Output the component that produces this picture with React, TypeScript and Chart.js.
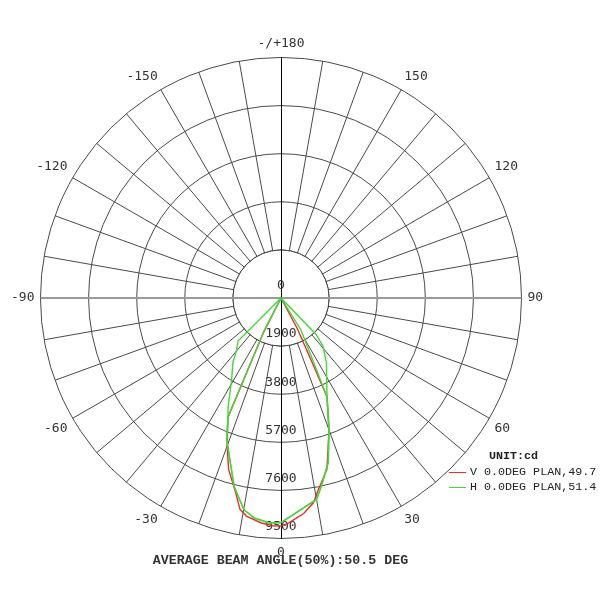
import React, { useEffect, useRef } from 'react';
import { Chart, registerables } from 'chart.js';

Chart.register(...registerables);

// Angular categories: gamma angle (deg), clockwise from the top (+/-180) through 90 (right), 0 (bottom), -90 (left)
const ANGLE_LABELS: number[] = Array.from({ length: 360 }, (_, i) => 180 - i);
const SHOWN_ANGLES: number[] = [180, 150, 120, 90, 60, 30, 0, -30, -60, -90, -120, -150];
const GRID_ANGLE_STEP = 10;

// Radial ticks (cd)
const TICK_VALUES: number[] = [0, 1900, 3800, 5700, 7600, 9500];

// V 0.0DEG PLAN (red)
const V_ANGLES: number[] = [180, 28, 26, 25, 20, 15, 11, 9, 6, 2, 0, -2, -5, -9, -11, -13, -17, -20, -24, -27];
const V_VALUES: number[] = [0, 1400, 2560, 4300, 5540, 7010, 7720, 8190, 8560, 8890, 9010, 9000, 8920, 8720, 8500, 7920, 7080, 6220, 5150, 1500];

// H 0.0DEG PLAN (green) - outer contour
const H_OUTER_ANGLES: number[] = [180, 44, 41, 35, 25, 20, 16, 12, 10, 0, -3, -7, -10, -14, -17, -21, -24, -26, -31, -37, -40, -45];
const H_OUTER_VALUES: number[] = [0, 2000, 2530, 3130, 4300, 5540, 6770, 7620, 8080, 8870, 8900, 8750, 8480, 7660, 6830, 5980, 5150, 4760, 3790, 3150, 2740, 2400];

// H 0.0DEG PLAN (green) - inner contour
const H_INNER_ANGLES: number[] = [180, 32, 25, 20, 16, 12, 10, 0, -3, -7, -10, -14, -17, -21, -24, -27];
const H_INNER_VALUES: number[] = [0, 1490, 4300, 5540, 6770, 7620, 8080, 8870, 8900, 8750, 8480, 7660, 6830, 5980, 5150, 1500];

const TITLE = 'AVERAGE BEAM ANGLE(50%):50.5 DEG';
const UNIT = 'UNIT:cd';
const SERIES_NAMES: string[] = ['V 0.0DEG PLAN,49.7', 'H 0.0DEG PLAN,51.4'];
const SERIES_COLORS: string[] = ['#f02a2a', '#44d838'];

const GRID_COLOR = '#4a4a4a';

function toSeries(angles: number[], values: number[]): (number | null)[] {
  const arr: (number | null)[] = ANGLE_LABELS.map(() => null);
  angles.forEach((a, k) => {
    const idx = ANGLE_LABELS.indexOf(a);
    if (idx >= 0) arr[idx] = values[k];
  });
  return arr;
}

const holePlugin = {
  id: 'holeAndTicks',
  beforeDatasetsDraw(chart: any) {
    const s = chart.scales.r;
    const ctx = chart.ctx as CanvasRenderingContext2D;
    const xc = s.xCenter;
    const yc = s.yCenter;
    const r1 = s.getDistanceFromCenterForValue(TICK_VALUES[1]);
    const rMax = s.getDistanceFromCenterForValue(TICK_VALUES[TICK_VALUES.length - 1]);
    ctx.save();
    ctx.beginPath();
    ctx.arc(xc, yc, r1 - 0.5, 0, Math.PI * 2);
    ctx.fillStyle = '#ffffff';
    ctx.fill();
    ctx.beginPath();
    ctx.arc(xc, yc, r1, 0, Math.PI * 2);
    ctx.strokeStyle = GRID_COLOR;
    ctx.lineWidth = 1;
    ctx.stroke();
    // horizontal diameter (-90 / 90)
    ctx.beginPath();
    ctx.moveTo(xc - rMax, yc);
    ctx.lineTo(xc + rMax, yc);
    ctx.strokeStyle = '#9a9a9a';
    ctx.lineWidth = 2;
    ctx.stroke();
    // vertical diameter (0 / 180)
    ctx.beginPath();
    ctx.moveTo(xc + 0.5, yc - rMax);
    ctx.lineTo(xc + 0.5, yc + rMax);
    ctx.strokeStyle = '#000000';
    ctx.lineWidth = 1;
    ctx.stroke();
    // radial tick labels along the lower vertical axis
    ctx.font = '13px "DejaVu Sans Mono"';
    ctx.fillStyle = '#333333';
    ctx.textAlign = 'center';
    ctx.textBaseline = 'middle';
    s.ticks.forEach((t: any) => {
      const r = s.getDistanceFromCenterForValue(t.value);
      ctx.fillText(String(t.value), xc, yc + r - 12);
    });
    ctx.restore();
  },
};

export default function App() {
  const ref = useRef<HTMLCanvasElement>(null);

  useEffect(() => {
    if (!ref.current) return;
    const lineDs = (label: string, data: (number | null)[], color: string, order: number) => ({
      label,
      data,
      order,
      borderColor: color,
      backgroundColor: color,
      borderWidth: 1.4,
      pointRadius: 0,
      pointHoverRadius: 0,
      fill: false,
      spanGaps: true,
      tension: 0,
    });
    const chart = new Chart(ref.current, {
      type: 'radar',
      data: {
        labels: ANGLE_LABELS.map(String),
        datasets: [
          lineDs(SERIES_NAMES[0], toSeries(V_ANGLES, V_VALUES), SERIES_COLORS[0], 3),
          lineDs(SERIES_NAMES[1], toSeries(H_OUTER_ANGLES, H_OUTER_VALUES), SERIES_COLORS[1], 1),
          lineDs(SERIES_NAMES[1] + ' inner', toSeries(H_INNER_ANGLES, H_INNER_VALUES), SERIES_COLORS[1], 2),
        ],
      },
      options: {
        animation: false,
        responsive: false,
        events: [],
        layout: { padding: { left: 7, top: 28, right: 52, bottom: 31 } },
        plugins: { legend: { display: false }, tooltip: { enabled: false }, title: { display: false } },
        scales: {
          r: {
            min: TICK_VALUES[0],
            max: TICK_VALUES[TICK_VALUES.length - 1],
            startAngle: 0,
            ticks: { display: false, stepSize: TICK_VALUES[1] - TICK_VALUES[0] },
            grid: { circular: true, color: GRID_COLOR, lineWidth: 1 },
            angleLines: {
              display: true,
              color: GRID_COLOR,
              lineWidth: (ctx: any) => {
                const g = ANGLE_LABELS[ctx.index];
                if (g % 90 === 0) return 0;
                return g % GRID_ANGLE_STEP === 0 ? 1 : 0;
              },
            },
            pointLabels: {
              display: true,
              padding: 6,
              color: '#333333',
              font: { family: '"DejaVu Sans Mono"', size: 13 },
              callback: (_label: any, index: number) => {
                const g = ANGLE_LABELS[index];
                if (!SHOWN_ANGLES.includes(g)) return '';
                return g === 180 ? '-/+180' : String(g);
              },
            },
          },
        },
      } as any,
      plugins: [holePlugin],
    });
    return () => chart.destroy();
  }, []);

  const textBase: React.CSSProperties = {
    position: 'absolute', fontFamily: '"Liberation Mono", monospace', color: '#222',
    whiteSpace: 'pre', lineHeight: '16px',
  };

  return (
    <div style={{ position: 'absolute', left: 0, top: 0, width: 600, height: 600, background: '#fff', overflow: 'hidden' }}>
      <canvas ref={ref} width={600} height={600} style={{ position: 'absolute', left: 0, top: 0, width: 600, height: 600 }} />
      <div style={{ ...textBase, left: 0, top: 553, width: 561, textAlign: 'center', fontWeight: 'bold', fontSize: '13.3px', color: '#333' }}>
        {TITLE}
      </div>
      <div style={{ ...textBase, left: 489, top: 448, fontSize: '11.7px', fontWeight: 'bold' }}>{UNIT}</div>
      {SERIES_NAMES.map((name, i) => (
        <React.Fragment key={name}>
          <div style={{ position: 'absolute', left: 449, top: 472 + i * 15, width: 17, height: 1, background: SERIES_COLORS[i] }} />
          <div style={{ ...textBase, left: 470, top: 464 + i * 15, fontSize: '11.7px' }}>{name}</div>
        </React.Fragment>
      ))}
    </div>
  );
}
